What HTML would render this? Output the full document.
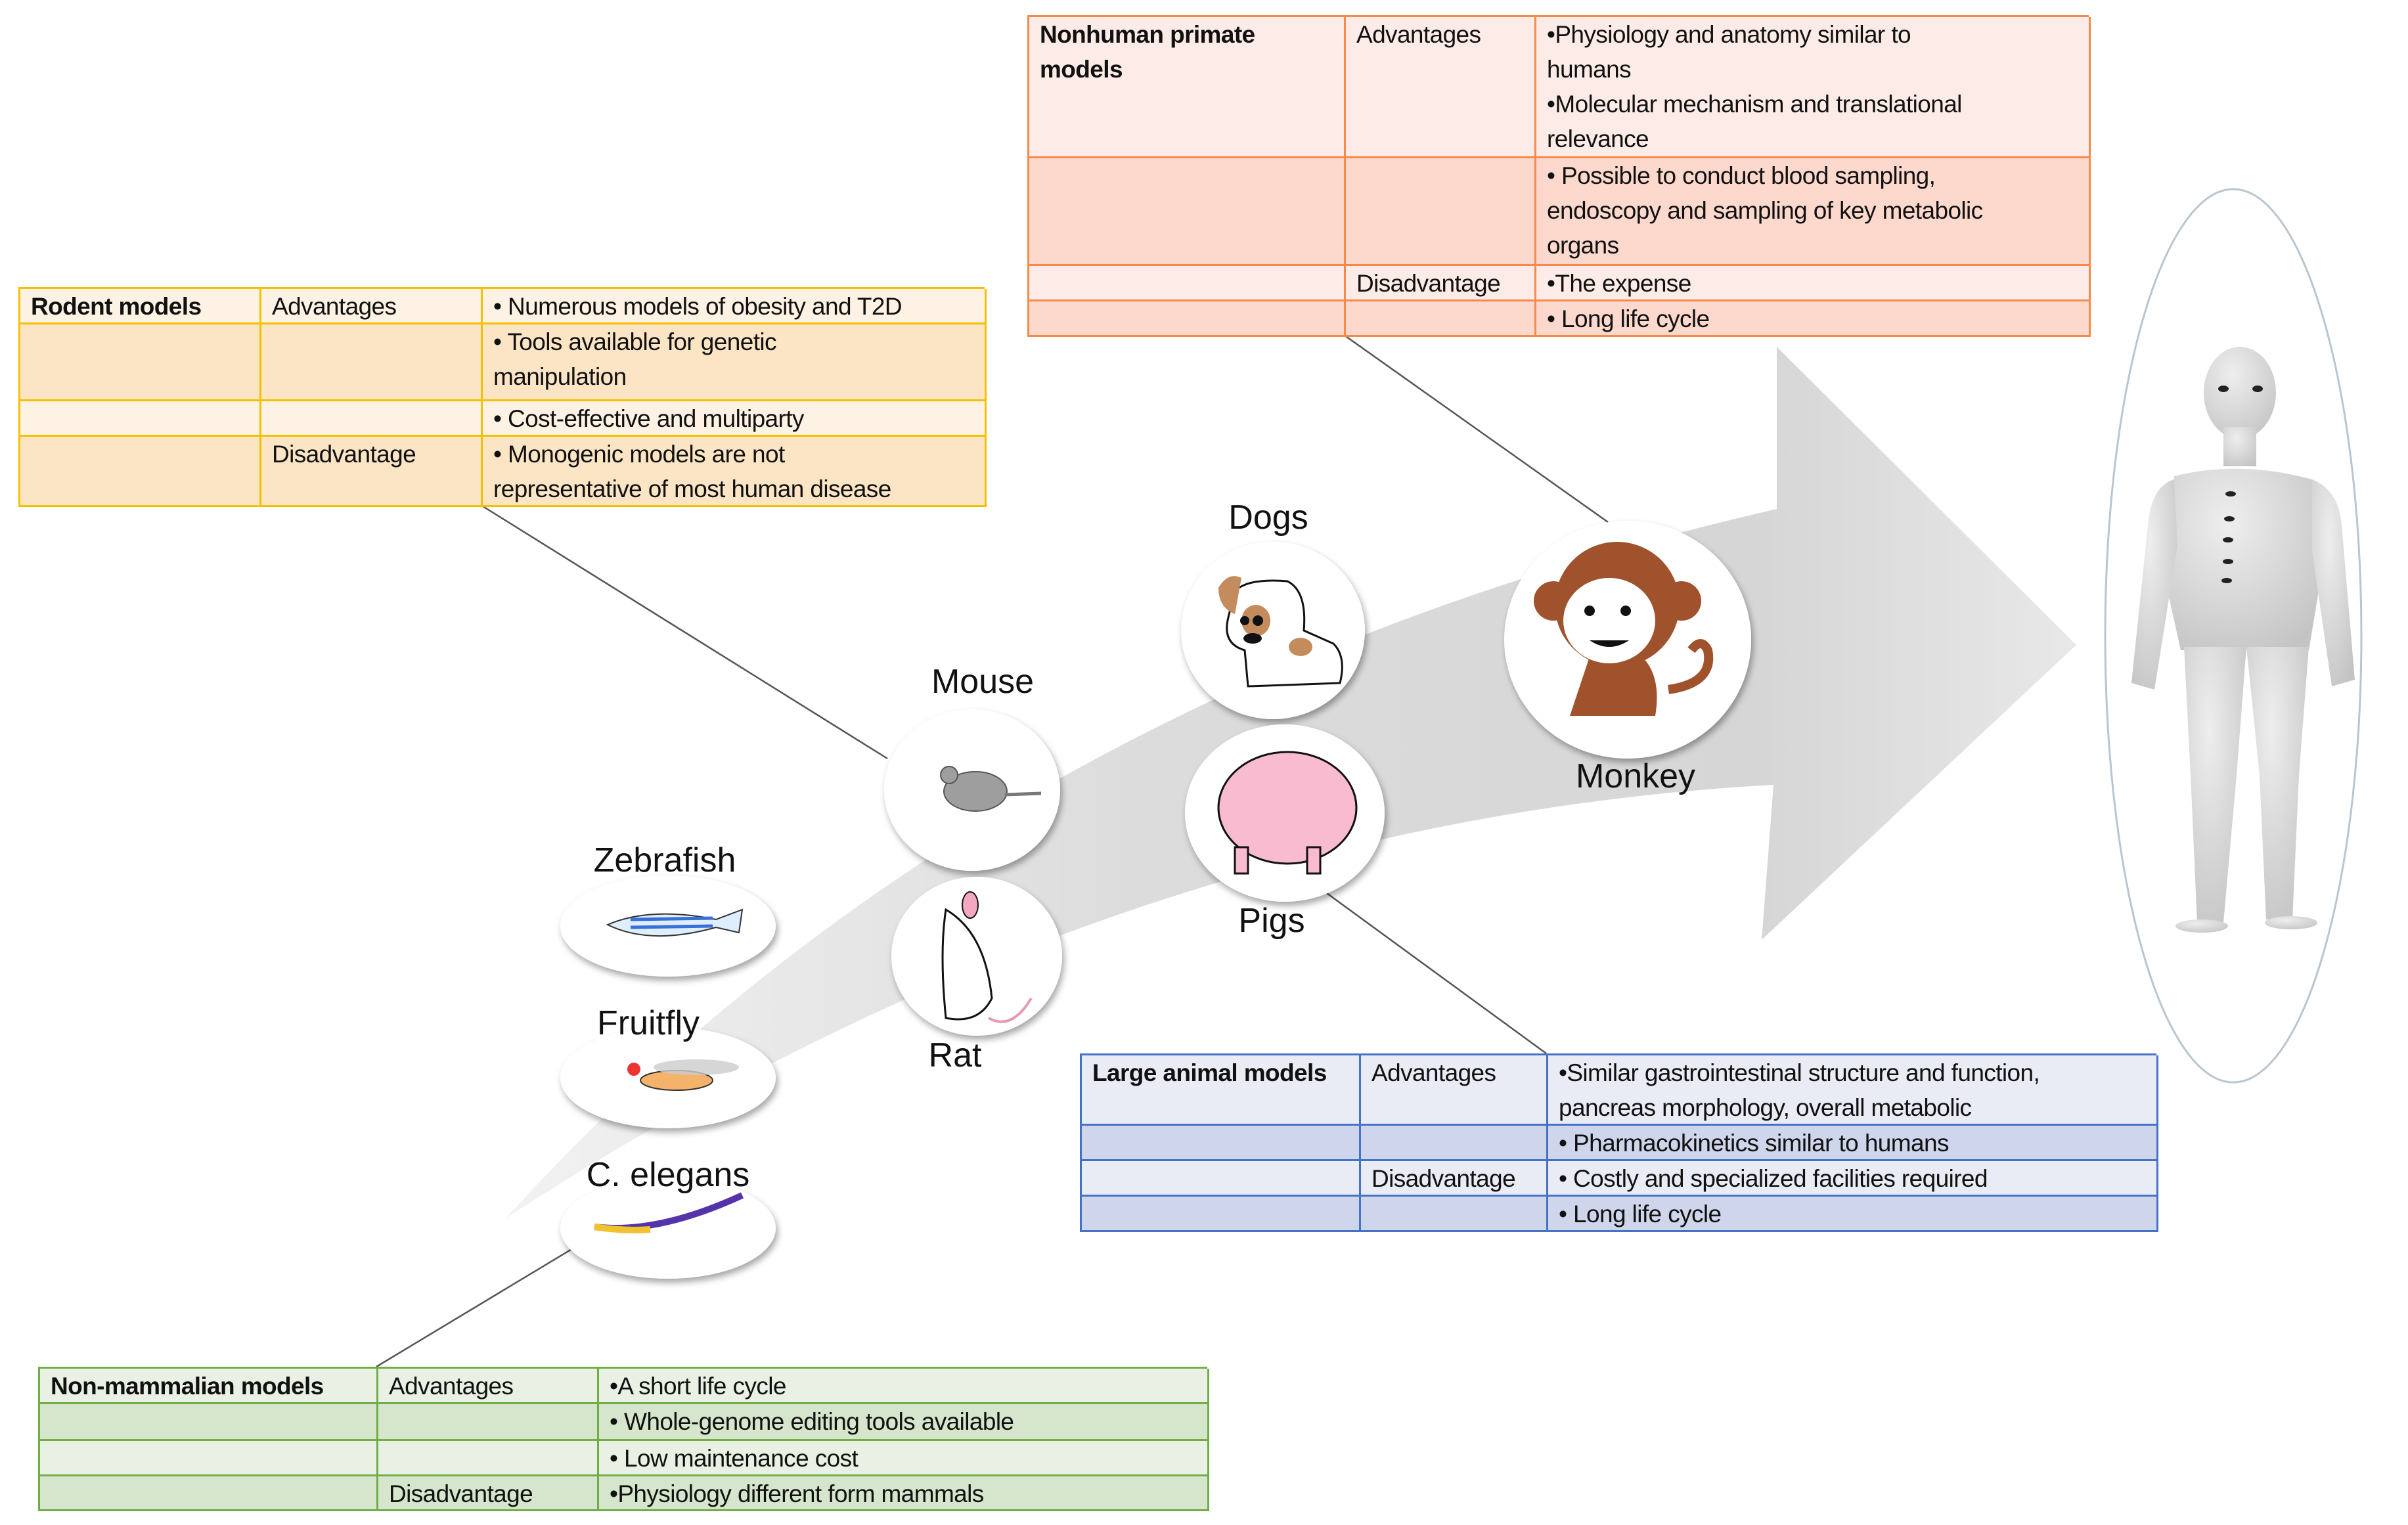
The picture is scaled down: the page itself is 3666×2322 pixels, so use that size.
<!DOCTYPE html>
<html><head><meta charset="utf-8"><style>
body{margin:0;width:3666px;height:2322px;background:#fff;position:relative;overflow:hidden;font-family:"Liberation Sans",Arial,sans-serif}
.t{position:absolute;display:grid;box-sizing:border-box;font-size:37px;letter-spacing:-0.6px;color:#111}
.t>div{box-sizing:border-box;line-height:53px;padding:0 0 0 16px;white-space:nowrap;overflow:hidden}
.b{font-weight:bold}
.lab{position:absolute;font-size:52px;color:#111;transform:translateX(-50%);white-space:nowrap}
</style></head><body>
<svg width="3666" height="2322" style="position:absolute;left:0;top:0">
<defs>
<linearGradient id="ag" x1="0" y1="0" x2="1" y2="0"><stop offset="0" stop-color="#f2f2f2"/><stop offset="0.4" stop-color="#dcdcdc"/><stop offset="0.8" stop-color="#d6d6d6"/><stop offset="1" stop-color="#e8e8e8"/></linearGradient>
<filter id="sh" x="-20%" y="-20%" width="140%" height="140%"><feDropShadow dx="3" dy="6" stdDeviation="5" flood-color="#000" flood-opacity="0.35"/></filter>
<radialGradient id="hg" cx="0.4" cy="0.3" r="0.8"><stop offset="0" stop-color="#eeeeee"/><stop offset="1" stop-color="#c4c4c4"/></radialGradient>
</defs>
<path d="M770,1855 Q1500,1050 2705,775 L2705,528 L3161,982 L2682,1431 L2700,1195 Q1700,1250 770,1855 Z" fill="url(#ag)"/>
<g stroke="#555" stroke-width="2.5">
<line x1="732" y1="769" x2="1351" y2="1155"/>
<line x1="2046" y1="510" x2="2448" y2="795"/>
<line x1="2020" y1="1360" x2="2354" y2="1604"/>
<line x1="877" y1="1898" x2="573" y2="2081"/>
</g>
<ellipse cx="3400" cy="968" rx="195" ry="680" fill="#fff" stroke="#b8c6d2" stroke-width="3"/>
<g fill="url(#hg)">
<ellipse cx="3410" cy="598" rx="55" ry="70"/>
<rect x="3385" y="650" width="50" height="60"/>
<path d="M3310,725 Q3410,700 3520,730 L3530,900 L3515,990 L3320,990 L3300,900 Z"/>
<path d="M3310,730 Q3275,740 3270,800 L3245,1040 L3280,1050 L3315,830 Z"/>
<path d="M3520,730 Q3560,745 3565,800 L3585,1035 L3550,1045 L3520,840 Z"/>
<path d="M3325,985 L3420,985 L3405,1180 L3385,1405 L3345,1405 L3335,1180 Z"/>
<path d="M3420,985 L3515,985 L3500,1180 L3490,1400 L3450,1400 L3440,1180 Z"/>
<ellipse cx="3352" cy="1410" rx="40" ry="10"/><ellipse cx="3488" cy="1405" rx="40" ry="10"/>
</g>
<g fill="#222"><ellipse cx="3385" cy="592" rx="8" ry="5"/><ellipse cx="3437" cy="592" rx="8" ry="5"/>
<ellipse cx="3396" cy="752" rx="8" ry="4"/><ellipse cx="3394" cy="790" rx="8" ry="4"/><ellipse cx="3392" cy="822" rx="8" ry="4"/><ellipse cx="3392" cy="855" rx="8" ry="4"/><ellipse cx="3390" cy="884" rx="8" ry="4"/></g>
<g fill="#fff" filter="url(#sh)">
<ellipse cx="1938" cy="960" rx="140" ry="135"/>
<ellipse cx="2478" cy="974" rx="188" ry="181"/>
<ellipse cx="1956" cy="1238" rx="152" ry="135"/>
<ellipse cx="1480" cy="1203" rx="134" ry="123"/>
<ellipse cx="1487" cy="1456" rx="130" ry="121"/>
<ellipse cx="1017" cy="1410" rx="164" ry="77"/>
<ellipse cx="1017" cy="1641" rx="164" ry="77"/>
<ellipse cx="1017" cy="1870" rx="164" ry="77"/>
</g>
<g stroke="#111" stroke-width="3" fill="#fff">
<path d="M1880,900 Q1900,880 1960,885 Q1990,900 1985,960 L2030,980 Q2050,1000 2040,1040 L1900,1045 L1895,990 Q1860,980 1870,940 Z"/>
</g>
<path d="M1855,895 Q1870,870 1890,880 L1880,935 Q1855,925 1855,895Z" fill="#c48c5c"/>
<ellipse cx="1912" cy="945" rx="22" ry="24" fill="#c48c5c"/><ellipse cx="1980" cy="985" rx="18" ry="14" fill="#c48c5c"/>
<circle cx="1895" cy="945" r="7" fill="#111"/><circle cx="1915" cy="945" r="8" fill="#111"/><ellipse cx="1907" cy="972" rx="14" ry="8" fill="#111"/>
<g fill="#a0522d">
<circle cx="2462" cy="920" r="95"/><circle cx="2365" cy="915" r="30"/><circle cx="2560" cy="915" r="30"/>
<path d="M2420,1000 Q2400,1060 2390,1090 L2520,1090 Q2530,1030 2500,1000Z"/>
<path d="M2540,1050 Q2610,1040 2600,990 Q2590,970 2575,990" fill="none" stroke="#a0522d" stroke-width="14"/>
</g>
<ellipse cx="2450" cy="945" rx="70" ry="65" fill="#fff"/>
<circle cx="2420" cy="930" r="8" fill="#111"/><circle cx="2475" cy="930" r="8" fill="#111"/>
<path d="M2420,975 Q2450,995 2480,975 Z" fill="#111"/>
<ellipse cx="1960" cy="1230" rx="105" ry="85" fill="#f8bbd0" stroke="#111" stroke-width="3"/>
<g stroke="#111" stroke-width="3" fill="#f8bbd0"><rect x="1880" y="1290" width="20" height="40"/><rect x="1990" y="1290" width="20" height="40"/></g>
<ellipse cx="1485" cy="1205" rx="48" ry="30" fill="#9e9e9e" stroke="#555" stroke-width="2"/>
<circle cx="1445" cy="1180" r="13" fill="#9e9e9e" stroke="#555" stroke-width="2"/>
<path d="M1530,1210 L1585,1208" stroke="#777" stroke-width="5"/>
<path d="M1440,1385 Q1500,1420 1510,1520 Q1490,1560 1440,1550 Q1430,1450 1440,1385Z" fill="#fff" stroke="#111" stroke-width="3"/>
<ellipse cx="1477" cy="1378" rx="12" ry="20" fill="#f4a7c0" stroke="#111" stroke-width="2"/>
<path d="M1505,1550 Q1540,1570 1570,1520" stroke="#e89ab0" stroke-width="4" fill="none"/>
<path d="M925,1408 Q990,1380 1090,1400 L1130,1385 L1125,1420 L1090,1412 Q990,1440 925,1408Z" fill="#ddeeff" stroke="#333" stroke-width="2"/>
<g stroke="#3a6fd8" stroke-width="5"><line x1="960" y1="1400" x2="1085" y2="1398"/><line x1="960" y1="1412" x2="1085" y2="1410"/></g>
<ellipse cx="1030" cy="1645" rx="55" ry="15" fill="#f4b26a" stroke="#333" stroke-width="2"/>
<ellipse cx="1060" cy="1625" rx="65" ry="12" fill="#ccc" opacity="0.8"/>
<circle cx="965" cy="1628" r="10" fill="#e33"/>
<path d="M905,1868 Q1000,1880 1130,1820" stroke="#5533aa" stroke-width="10" fill="none"/>
<path d="M905,1868 Q950,1875 990,1872" stroke="#f2c12e" stroke-width="10" fill="none"/>
</svg>

<div class="lab" style="left:1931px;top:758px">Dogs</div>
<div class="lab" style="left:2490px;top:1152px">Monkey</div>
<div class="lab" style="left:1936px;top:1372px">Pigs</div>
<div class="lab" style="left:1496px;top:1008px">Mouse</div>
<div class="lab" style="left:1454px;top:1577px">Rat</div>
<div class="lab" style="left:1012px;top:1280px">Zebrafish</div>
<div class="lab" style="left:987px;top:1528px">Fruitfly</div>
<div class="lab" style="left:1017px;top:1759px">C. elegans</div>

<div class="t" style="left:28px;top:437px;width:1471px;grid-template-columns:367px 337px 767px;grid-template-rows:54px 117px 54px 107px;border:3px solid #f5c000;border-right:none;border-bottom:none">
<div class="b" style="background:#fdf2e3;border-right:3px solid #f5c000;border-bottom:3px solid #f5c000">Rodent models</div><div style="background:#fdf2e3;border-right:3px solid #f5c000;border-bottom:3px solid #f5c000">Advantages</div><div style="background:#fdf2e3;border-right:3px solid #f5c000;border-bottom:3px solid #f5c000">• Numerous models of obesity and T2D</div>
<div style="background:#fce5c5;border-right:3px solid #f5c000;border-bottom:3px solid #f5c000"></div><div style="background:#fce5c5;border-right:3px solid #f5c000;border-bottom:3px solid #f5c000"></div><div style="background:#fce5c5;border-right:3px solid #f5c000;border-bottom:3px solid #f5c000">• Tools available for genetic<br>manipulation</div>
<div style="background:#fdf2e3;border-right:3px solid #f5c000;border-bottom:3px solid #f5c000"></div><div style="background:#fdf2e3;border-right:3px solid #f5c000;border-bottom:3px solid #f5c000"></div><div style="background:#fdf2e3;border-right:3px solid #f5c000;border-bottom:3px solid #f5c000">• Cost-effective and multiparty</div>
<div style="background:#fce5c5;border-right:3px solid #f5c000;border-bottom:3px solid #f5c000"></div><div style="background:#fce5c5;border-right:3px solid #f5c000;border-bottom:3px solid #f5c000">Disadvantage</div><div style="background:#fce5c5;border-right:3px solid #f5c000;border-bottom:3px solid #f5c000">• Monogenic models are not<br>representative of most human disease</div>
</div>

<div class="t" style="left:1564px;top:23px;width:1616px;grid-template-columns:482px 290px 844px;grid-template-rows:215px 164px 54px 54px;border:3px solid #f58a4a;border-right:none;border-bottom:none">
<div class="b" style="background:#fdebe7;border-right:3px solid #f58a4a;border-bottom:3px solid #f58a4a">Nonhuman primate<br>models</div><div style="background:#fdebe7;border-right:3px solid #f58a4a;border-bottom:3px solid #f58a4a">Advantages</div><div style="background:#fdebe7;border-right:3px solid #f58a4a;border-bottom:3px solid #f58a4a">•Physiology and anatomy similar to<br>humans<br>•Molecular mechanism and translational<br>relevance</div>
<div style="background:#fcd8cd;border-right:3px solid #f58a4a;border-bottom:3px solid #f58a4a"></div><div style="background:#fcd8cd;border-right:3px solid #f58a4a;border-bottom:3px solid #f58a4a"></div><div style="background:#fcd8cd;border-right:3px solid #f58a4a;border-bottom:3px solid #f58a4a">• Possible to conduct blood sampling,<br>endoscopy and sampling of key metabolic<br>organs</div>
<div style="background:#fdebe7;border-right:3px solid #f58a4a;border-bottom:3px solid #f58a4a"></div><div style="background:#fdebe7;border-right:3px solid #f58a4a;border-bottom:3px solid #f58a4a">Disadvantage</div><div style="background:#fdebe7;border-right:3px solid #f58a4a;border-bottom:3px solid #f58a4a">•The expense</div>
<div style="background:#fcd8cd;border-right:3px solid #f58a4a;border-bottom:3px solid #f58a4a"></div><div style="background:#fcd8cd;border-right:3px solid #f58a4a;border-bottom:3px solid #f58a4a"></div><div style="background:#fcd8cd;border-right:3px solid #f58a4a;border-bottom:3px solid #f58a4a">• Long life cycle</div>
</div>

<div class="t" style="left:1644px;top:1604px;width:1639px;grid-template-columns:425px 285px 929px;grid-template-rows:107px 54px 54px 54px;border:3px solid #4472c4;border-right:none;border-bottom:none">
<div class="b" style="background:#e9ebf5;border-right:3px solid #4472c4;border-bottom:3px solid #4472c4">Large animal models</div><div style="background:#e9ebf5;border-right:3px solid #4472c4;border-bottom:3px solid #4472c4">Advantages</div><div style="background:#e9ebf5;border-right:3px solid #4472c4;border-bottom:3px solid #4472c4">•Similar gastrointestinal structure and function,<br>pancreas morphology, overall metabolic</div>
<div style="background:#cfd5ea;border-right:3px solid #4472c4;border-bottom:3px solid #4472c4"></div><div style="background:#cfd5ea;border-right:3px solid #4472c4;border-bottom:3px solid #4472c4"></div><div style="background:#cfd5ea;border-right:3px solid #4472c4;border-bottom:3px solid #4472c4">• Pharmacokinetics similar to humans</div>
<div style="background:#e9ebf5;border-right:3px solid #4472c4;border-bottom:3px solid #4472c4"></div><div style="background:#e9ebf5;border-right:3px solid #4472c4;border-bottom:3px solid #4472c4">Disadvantage</div><div style="background:#e9ebf5;border-right:3px solid #4472c4;border-bottom:3px solid #4472c4">• Costly and specialized facilities required</div>
<div style="background:#cfd5ea;border-right:3px solid #4472c4;border-bottom:3px solid #4472c4"></div><div style="background:#cfd5ea;border-right:3px solid #4472c4;border-bottom:3px solid #4472c4"></div><div style="background:#cfd5ea;border-right:3px solid #4472c4;border-bottom:3px solid #4472c4">• Long life cycle</div>
</div>

<div class="t" style="left:58px;top:2081px;width:1780px;grid-template-columns:515px 336px 929px;grid-template-rows:54px 56px 54px 53px;border:3px solid #70ad47;border-right:none;border-bottom:none">
<div class="b" style="background:#e9f1e5;border-right:3px solid #70ad47;border-bottom:3px solid #70ad47">Non-mammalian models</div><div style="background:#e9f1e5;border-right:3px solid #70ad47;border-bottom:3px solid #70ad47">Advantages</div><div style="background:#e9f1e5;border-right:3px solid #70ad47;border-bottom:3px solid #70ad47">•A short life cycle</div>
<div style="background:#d5e6cc;border-right:3px solid #70ad47;border-bottom:3px solid #70ad47"></div><div style="background:#d5e6cc;border-right:3px solid #70ad47;border-bottom:3px solid #70ad47"></div><div style="background:#d5e6cc;border-right:3px solid #70ad47;border-bottom:3px solid #70ad47">• Whole-genome editing tools available</div>
<div style="background:#e9f1e5;border-right:3px solid #70ad47;border-bottom:3px solid #70ad47"></div><div style="background:#e9f1e5;border-right:3px solid #70ad47;border-bottom:3px solid #70ad47"></div><div style="background:#e9f1e5;border-right:3px solid #70ad47;border-bottom:3px solid #70ad47">• Low maintenance cost</div>
<div style="background:#d5e6cc;border-right:3px solid #70ad47;border-bottom:3px solid #70ad47"></div><div style="background:#d5e6cc;border-right:3px solid #70ad47;border-bottom:3px solid #70ad47">Disadvantage</div><div style="background:#d5e6cc;border-right:3px solid #70ad47;border-bottom:3px solid #70ad47">•Physiology different form mammals</div>
</div>
</body></html>
